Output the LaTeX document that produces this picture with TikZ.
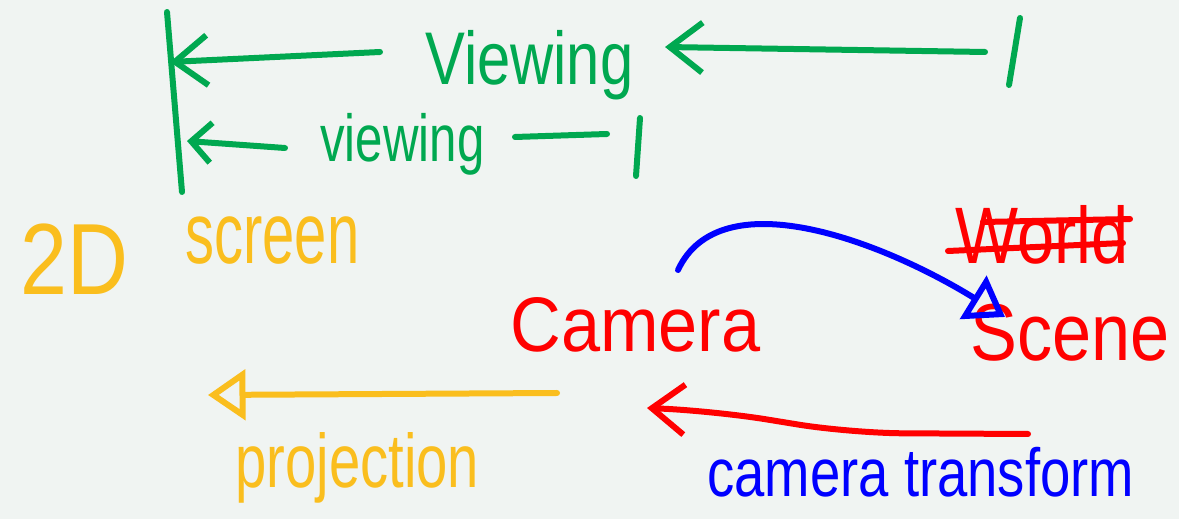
\documentclass[tikz,border=0pt]{standalone}
\usepackage{fontspec}
\setmainfont{Liberation Sans}
\usetikzlibrary{arrows.meta}
\definecolor{paper}{RGB}{240,244,242}
\definecolor{inkgreen}{RGB}{0,168,80}
\definecolor{inkyellow}{RGB}{250,190,30}
\definecolor{inkred}{RGB}{255,0,0}
\definecolor{inkblue}{RGB}{0,0,255}
\newcommand{\penfont}[1]{\fontsize{#1}{#1}\selectfont}
% handwriting is taller than the type: stretch words vertically
\newcommand{\tall}[2]{\scalebox{1}[#1]{#2}}

\begin{document}
\begin{tikzpicture}[x=0.02cm,y=-0.02cm,
  pen/.style={line width=0.12cm, line cap=round, line join=round},
  word/.style={inner sep=0pt, anchor=base west},
  barb/.style={-{Straight Barb[length=0.65cm,width=1.0cm]}},
  smallbarb/.style={-{Straight Barb[length=0.4cm,width=0.8cm]}},
  tri/.style={-{Triangle[open,length=0.75cm,width=1.0cm]}}
]
% sheet
\useasboundingbox (0,0) rectangle (1179,519);
\fill[paper] (0,0) rectangle (1179,519);

% labels
\node[word, font=\penfont{34pt}, text=inkgreen]  (viewA)  at (425,85)  {\tall{1.25}{Viewing}};
\node[word, font=\penfont{28pt}, text=inkgreen]  (viewB)  at (320,162) {\tall{1.35}{viewing}};
\node[word, font=\penfont{48pt}, text=inkyellow] (twoD)   at (20,295)  {\tall{1.2}{2D}};
\node[word, font=\penfont{33pt}, text=inkyellow] (screen) at (185,264) {\tall{1.5}{screen}};
\node[word, font=\penfont{40pt}, text=inkred]    (camera) at (510,352) {\tall{1.1}{Camera}};
\node[word, font=\penfont{38pt}, text=inkred]    (world)  at (955,264) {\tall{1.2}{World}};
\node[word, font=\penfont{40pt}, text=inkred]    (scene)  at (970,361) {\tall{1.15}{Scene}};
\node[word, font=\penfont{32pt}, text=inkyellow] (proj)   at (235,488) {\tall{1.35}{projection}};
\node[word, font=\penfont{31pt}, text=inkblue]   (camtf)  at (707,497) {\tall{1.25}{camera transform}};

% green screen axis and viewing arrows
\coordinate (axisTop) at (167,12);
\coordinate (axisBot) at (182,192);
\coordinate (hitA) at (170,62);
\coordinate (tailA) at (380,52);
\coordinate (tickAtop) at (1020,18);
\coordinate (tickAbot) at (1009,85);
\coordinate (startA) at (985,52);
\coordinate (endA) at (665,47);
\coordinate (hitB) at (187,141);
\coordinate (tailB) at (285,148);
\coordinate (dashBl) at (515,137);
\coordinate (dashBr) at (607,134);
\coordinate (tickBtop) at (640,118);
\coordinate (tickBbot) at (636,176);

\draw[pen, inkgreen] (axisTop) -- (axisBot);
\draw[pen, inkgreen, barb] (tailA) -- (hitA);
\draw[pen, inkgreen] (tickAtop) -- (tickAbot);
\draw[pen, inkgreen, barb] (startA) -- (endA);
\draw[pen, inkgreen, smallbarb] (tailB) -- (hitB);
\draw[pen, inkgreen] (dashBl) -- (dashBr);
\draw[pen, inkgreen] (tickBtop) -- (tickBbot);

% struck-out word
\coordinate (strikeAl) at (983,222);
\coordinate (strikeAr) at (1130,219);
\coordinate (strikeBl) at (948,251);
\coordinate (strikeBr) at (1123,243);
\draw[pen, inkred] (strikeAl) -- (strikeAr);
\draw[pen, inkred] (strikeBl) -- (strikeBr);

% camera to scene arc
\coordinate (arcStart) at (678,270);
\coordinate (arcEnd) at (1005,317);
\draw[pen, inkblue, tri] (arcStart) .. controls (720,180) and (880,240) .. (arcEnd);

% projection arrow
\coordinate (projTail) at (557,393);
\coordinate (projTip) at (208,395);
\draw[pen, inkyellow, tri] (projTail) -- (projTip);

% camera transform arrow
\coordinate (camTail) at (1028,434);
\coordinate (camTip) at (647,408);
\draw[pen, inkred, barb, rounded corners=30] (camTail) -- (850,433) -- (715,411) -- (camTip);
\end{tikzpicture}
\end{document}
